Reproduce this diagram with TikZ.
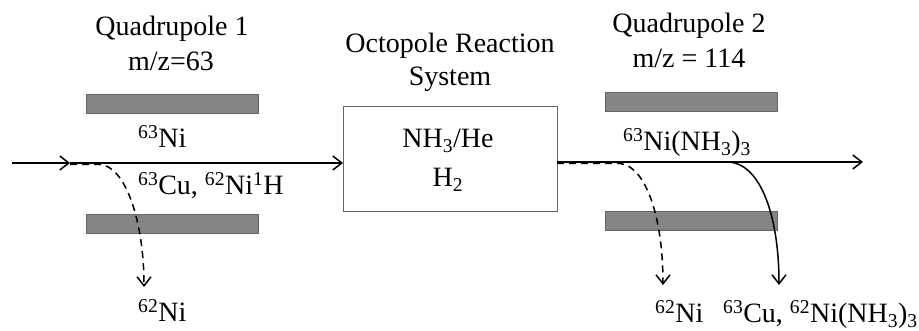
\documentclass[tikz,border=0pt]{standalone}
\usepackage{fontspec}
\setmainfont{Liberation Serif}
\usetikzlibrary{arrows.meta}
\begin{document}
\begin{tikzpicture}[x=1pt,y=-1pt,
  rod/.style={draw=black!60, fill=black!48, line width=0.8pt, minimum width=172pt, minimum height=19pt, inner sep=0pt, outer sep=0pt},
  chamber/.style={draw=black!60, line width=1pt, minimum width=214pt, minimum height=105pt, inner sep=0pt, outer sep=0pt},
  lbl/.style={font=\fontsize{28}{32}\selectfont, inner sep=0pt, anchor=base},
  lblw/.style={lbl, anchor=base west},
  beam/.style={line width=1.5pt},
  tip/.style={-{Straight Barb[length=9pt,width=14pt]}},
  dsh/.style={line width=1.5pt, dash pattern=on 7pt off 5pt}
]
\useasboundingbox (0,0) rectangle (919,331);
% rods
\node[rod] (q1u) at (172,103.5) {};
\node[rod] (q1l) at (172,223.5) {};
\node[rod] (q2u) at (691.5,101.5) {};
\node[rod] (q2l) at (691.5,221) {};
% reaction cell
\node[chamber] (ors) at (450,159.5) {};
% titles
\node[lbl] (t1a) at (172,36) {Quadrupole 1};
\node[lbl] (t1b) at (171,71) {m/z=63};
\node[lbl] (t2a) at (450,53) {Octopole Reaction};
\node[lbl] (t2b) at (450,86) {System};
\node[lbl] (t3a) at (689,33) {Quadrupole 2};
\node[lbl] (t3b) at (689,68) {m/z = 114};
% cell contents
\node[lbl] (g1) at (448,148) {NH\textsubscript{3}/He};
\node[lbl] (g2) at (448,187) {H\textsubscript{2}};
% ion labels
\node[lblw] (i1) at (138,148) {\textsuperscript{63}Ni};
\node[lblw] (i2) at (138,195) {\textsuperscript{63}Cu, \textsuperscript{62}Ni\textsuperscript{1}H};
\node[lblw] (i3) at (138,322) {\textsuperscript{62}Ni};
\node[lblw] (i4) at (623,151) {\textsuperscript{63}Ni(NH\textsubscript{3})\textsubscript{3}};
\node[lblw] (i5) at (655,323) {\textsuperscript{62}Ni};
\node[lblw] (i6) at (723,323) {\textsuperscript{63}Cu, \textsuperscript{62}Ni(NH\textsubscript{3})\textsubscript{3}};
% coordinates
\coordinate (in) at (12,163);
\coordinate (m1) at (70,163);
\coordinate (m1d) at (70,164.5);
\coordinate (d1) at (100,164.5);
\coordinate (e1) at (144,287);
\coordinate (r0) at (557,162);
\coordinate (r0d) at (557,163.5);
\coordinate (d2) at (620,163.5);
\coordinate (e2) at (663,285);
\coordinate (s2) at (727,162);
\coordinate (e3) at (779,285);
\coordinate (out) at (863,162);
% beams
\draw[beam,tip] (in) -- (m1);
\draw[beam,tip] (m1) -- (m1 -| ors.west);
\draw[dsh,tip] (m1d) -- (d1) .. controls (125,166) and (144,220) .. (e1);
\draw[beam,tip] (r0) -- (out);
\draw[dsh,tip] (r0d) -- (d2) .. controls (645,166) and (663,215) .. (e2);
\draw[beam,tip] (s2) .. controls (760,162) and (779,215) .. (e3);
\end{tikzpicture}
\end{document}
